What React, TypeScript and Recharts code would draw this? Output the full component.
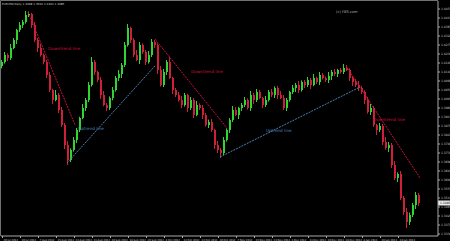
import { ComposedChart, Bar, XAxis, YAxis, ReferenceLine, ReferenceDot } from "recharts";

// daily closes
const closes = [
  1.4190, 1.4225, 1.4210, 1.4260, 1.4300, 1.4350, 1.4375, 1.4390, 1.4425, 1.4430,
  1.4375, 1.4300, 1.4260, 1.4225, 1.4190, 1.4125, 1.4050, 1.4000, 1.4025, 1.3950,
  1.3875, 1.3775, 1.3700, 1.3750, 1.3800, 1.3850, 1.3910, 1.3960, 1.4000, 1.4075,
  1.4190, 1.4140, 1.4100, 1.4025, 1.3975, 1.3960, 1.4010, 1.4050, 1.4110, 1.4130,
  1.4175, 1.4275, 1.4360, 1.4300, 1.4225, 1.4200, 1.4275, 1.4240, 1.4190, 1.4225,
  1.4290, 1.4275, 1.4150, 1.4075, 1.4140, 1.4190, 1.4110, 1.4050, 1.4025, 1.4000,
  1.3975, 1.4025, 1.3960, 1.4000, 1.3925, 1.3975, 1.3960, 1.3925, 1.3875, 1.3890,
  1.3850, 1.3775, 1.3750, 1.3735, 1.3800, 1.3850, 1.3900, 1.3950, 1.3925, 1.3960,
  1.3975, 1.4000, 1.3960, 1.4025, 1.4000, 1.4040, 1.4010, 1.3975, 1.4000, 1.4040,
  1.4025, 1.4060, 1.4025, 1.4010, 1.3960, 1.4000, 1.4040, 1.4060, 1.4075, 1.4050,
  1.4090, 1.4075, 1.4100, 1.4075, 1.4110, 1.4090, 1.4125, 1.4110, 1.4100, 1.4120,
  1.4140, 1.4130, 1.4150, 1.4140, 1.4160, 1.4150, 1.4110, 1.4090, 1.4075, 1.4060,
  1.4040, 1.4000, 1.3940, 1.3960, 1.3875, 1.3850, 1.3870, 1.3790, 1.3760, 1.3775,
  1.3675, 1.3610, 1.3630, 1.3510, 1.3440, 1.3390, 1.3425, 1.3475, 1.3525, 1.3485,
];
const firstOpen = 1.4170;

// wick lengths in pips above / below the body
const highWick = [
  10, 15, 8, 20, 10, 6, 15, 10, 20, 12,
  6, 15, 10, 20, 8, 10, 15, 6, 25, 10,
  15, 10, 20, 8, 15, 10, 6, 20, 10, 15,
  25, 10, 6, 15, 20, 10, 8, 15, 10, 20,
  10, 15, 20, 6, 10, 25, 15, 8, 10, 20,
  15, 10, 8, 20, 15, 10, 25, 6, 10, 15,
  20, 10, 6, 15, 10, 20, 8, 15, 10, 12,
  15, 6, 20, 10, 15, 8, 10, 20, 15, 6,
  10, 15, 8, 20, 10, 15, 10, 6, 20, 10,
  15, 8, 10, 20, 15, 10, 6, 15, 10, 20,
  8, 10, 15, 10, 20, 6, 15, 10, 8, 20,
  10, 15, 6, 10, 20, 15, 8, 10, 15, 20,
  10, 8, 15, 20, 10, 6, 15, 10, 25, 15,
  10, 20, 8, 15, 10, 20, 12, 10, 15, 10,
];
const lowWick = [
  12, 8, 15, 10, 6, 20, 10, 15, 8, 10,
  15, 10, 20, 8, 12, 15, 10, 20, 6, 15,
  10, 20, 25, 10, 8, 15, 10, 6, 15, 10,
  8, 15, 10, 20, 6, 15, 10, 12, 8, 15,
  20, 10, 8, 15, 10, 6, 20, 10, 15, 8,
  10, 15, 20, 8, 10, 15, 6, 20, 10, 8,
  15, 8, 20, 10, 15, 6, 10, 20, 8, 15,
  10, 20, 15, 25, 10, 8, 15, 10, 6, 20,
  15, 10, 8, 15, 20, 10, 6, 15, 10, 8,
  10, 15, 20, 6, 10, 15, 8, 10, 20, 15,
  8, 15, 10, 20, 6, 10, 15, 8, 10, 15,
  20, 10, 15, 8, 10, 6, 15, 20, 10, 15,
  10, 20, 8, 15, 10, 25, 10, 15, 8, 20,
  15, 10, 20, 10, 15, 30, 15, 10, 20, 15,
];

const priceTicks = [
  1.4455, 1.4410, 1.4365, 1.4320, 1.4275, 1.4230, 1.4185, 1.4140, 1.4095,
  1.4050, 1.4005, 1.3960, 1.3915, 1.3870, 1.3825, 1.3780, 1.3735, 1.3690,
  1.3645, 1.3600, 1.3555, 1.3510, 1.3465, 1.3420, 1.3375, 1.3330,
];

const dateTickIdx = [0, 6, 12, 18, 24, 30, 36, 42, 48, 54, 60, 66, 72, 78, 84, 90, 96, 102, 108, 114, 120, 126, 132];
const dateLabels = [
  "20 Jul 2012", "30 Jul 2012", "7 Aug 2012", "15 Aug 2012", "23 Aug 2012", "31 Aug 2012",
  "10 Sep 2012", "18 Sep 2012", "26 Sep 2012", "4 Oct 2012", "12 Oct 2012", "22 Oct 2012",
  "30 Oct 2012", "7 Nov 2012", "15 Nov 2012", "23 Nov 2012", "3 Dec 2012", "11 Dec 2012",
  "19 Dec 2012", "28 Dec 2012", "8 Jan 2013", "16 Jan 2013", "24 Jan 2013",
];

// trend lines drawn on the chart: [index, price] -> [index, price]
const downLines = [
  [[8.5, 1.4440], [24.2, 1.3875]],
  [[50.8, 1.4305], [74.8, 1.3860]],
  [[114.5, 1.4170], [139.2, 1.3610]],
];
const upLines = [
  [[21.5, 1.3685], [50.8, 1.4170]],
  [[72.5, 1.3715], [119.2, 1.4065]],
];
const downLabels = [[15.2, 1.4260], [62.8, 1.4145], [123.5, 1.3905]];
const upLabels = [[25.2, 1.3860], [87.8, 1.3850]];

const symbolTitle = "EURUSD,Daily  1.3498 1.3520 1.3461 1.3485";
const watermark = "(c) FBS.com";

const GREEN = "#2fd62f";
const RED = "#d01f3a";
const DOWN_COLOR = "#c8123c";
const UP_COLOR = "#4c80b4";
const AXIS = "#a8a8a8";
const FONT = "'DejaVu Sans', sans-serif";

const data = closes.map((c, i) => {
  const o = i === 0 ? firstOpen : closes[i - 1];
  const h = Math.max(o, c) + highWick[i] / 10000;
  const l = Math.min(o, c) - lowWick[i] / 10000;
  return { i, o, c, h, l, range: [l, h] };
});
const lastClose = closes[closes.length - 1];

const Candle = (props: any) => {
  const { x, y, width, height, payload } = props;
  if (x == null || !payload) return null;
  const { o, c, h, l } = payload;
  const color = c >= o ? GREEN : RED;
  const top = Math.min(y, y + height);
  const hh = Math.abs(height);
  const span = h - l || 1e-9;
  const py = (v: number) => top + ((h - v) / span) * hh;
  const bTop = py(Math.max(o, c));
  const bBot = py(Math.min(o, c));
  const bx = Math.round(x);
  return (
    <g>
      <line x1={bx + 0.5} x2={bx + 0.5} y1={top} y2={top + hh} stroke={color} strokeWidth={1} />
      <rect x={bx} y={bTop} width={Math.max(2, width)} height={Math.max(1, bBot - bTop)} fill={color} />
    </g>
  );
};

const DateTick = (props: any) => {
  const { x, payload } = props;
  const k = dateTickIdx.indexOf(payload.value);
  return (
    <text x={x + 1} y={240.5} fill="#d0d0d0" fontSize={2.6} fontFamily={FONT} textAnchor="start">
      {k >= 0 ? dateLabels[k] : ""}
    </text>
  );
};

const PriceTick = (props: any) => {
  const { y, payload } = props;
  return (
    <text x={441} y={y + 1} fill="#d0d0d0" fontSize={3} fontFamily={FONT} textAnchor="start">
      {payload.value.toFixed(4)}
    </text>
  );
};

const TextMark = (color: string, text: string) => (props: any) => (
  <text x={props.cx} y={props.cy + 1.5} fill={color} fontSize={4.2} fontFamily={FONT} textAnchor="start">
    {text}
  </text>
);

const PriceTag = (props: any) => {
  const vb = props.viewBox;
  if (!vb) return null;
  const x = vb.x + vb.width;
  return (
    <g>
      <rect x={x} y={vb.y - 2.5} width={12} height={5} fill="#e8e8e8" />
      <text x={x + 2} y={vb.y + 1} fill="#000" fontSize={3} fontFamily={FONT}>{lastClose.toFixed(4)}</text>
    </g>
  );
};

export default function App() {
  return (
    <div style={{ position: "absolute", left: 0, top: 0, width: 450, height: 241, background: "#000" }}>
      <ComposedChart width={450} height={241} data={data} margin={{ top: 1, right: 0, left: 1, bottom: 0 }}>
        <XAxis
          type="number"
          dataKey="i"
          domain={[-0.5, 145.17]}
          allowDataOverflow
          ticks={dateTickIdx}
          interval={0}
          tick={<DateTick />}
          tickSize={2}
          tickLine={{ stroke: AXIS }}
          axisLine={{ stroke: AXIS }}
          height={5}
        />
        <YAxis
          orientation="right"
          type="number"
          domain={[1.3320, 1.4495]}
          allowDataOverflow
          ticks={priceTicks}
          interval={0}
          tick={<PriceTick />}
          tickSize={2}
          tickLine={{ stroke: AXIS }}
          axisLine={{ stroke: AXIS }}
          width={12}
        />
        <Bar dataKey="range" barSize={2} shape={<Candle />} isAnimationActive={false} />
        {downLines.map((s, k) => (
          <ReferenceLine
            key={"d" + k}
            segment={[{ x: s[0][0], y: s[0][1] }, { x: s[1][0], y: s[1][1] }]}
            stroke={DOWN_COLOR}
            strokeDasharray="2 1"
          />
        ))}
        {upLines.map((s, k) => (
          <ReferenceLine
            key={"u" + k}
            segment={[{ x: s[0][0], y: s[0][1] }, { x: s[1][0], y: s[1][1] }]}
            stroke={UP_COLOR}
            strokeDasharray="2 1"
          />
        ))}
        {downLabels.map((p, k) => (
          <ReferenceDot key={"dl" + k} x={p[0]} y={p[1]} r={0} shape={TextMark(DOWN_COLOR, "Downtrend line")} />
        ))}
        {upLabels.map((p, k) => (
          <ReferenceDot key={"ul" + k} x={p[0]} y={p[1]} r={0} shape={TextMark(UP_COLOR, "Uptrend line")} />
        ))}
        <ReferenceLine y={lastClose} stroke="none" label={{ content: <PriceTag /> } as any} />
      </ComposedChart>
      <svg width={450} height={241} style={{ position: "absolute", left: 0, top: 0, pointerEvents: "none" }}>
        <line x1={0.5} y1={0.5} x2={438} y2={0.5} stroke="#707070" />
        <line x1={0.5} y1={0.5} x2={0.5} y2={236} stroke="#707070" />
        <text x={2} y={5} fill="#c8c8c8" fontSize={2.8} fontFamily={FONT}>{symbolTitle}</text>
        <text x={336} y={13} fill="#a8a8a8" fontSize={3.6} fontFamily={FONT}>{watermark}</text>
      </svg>
    </div>
  );
}
